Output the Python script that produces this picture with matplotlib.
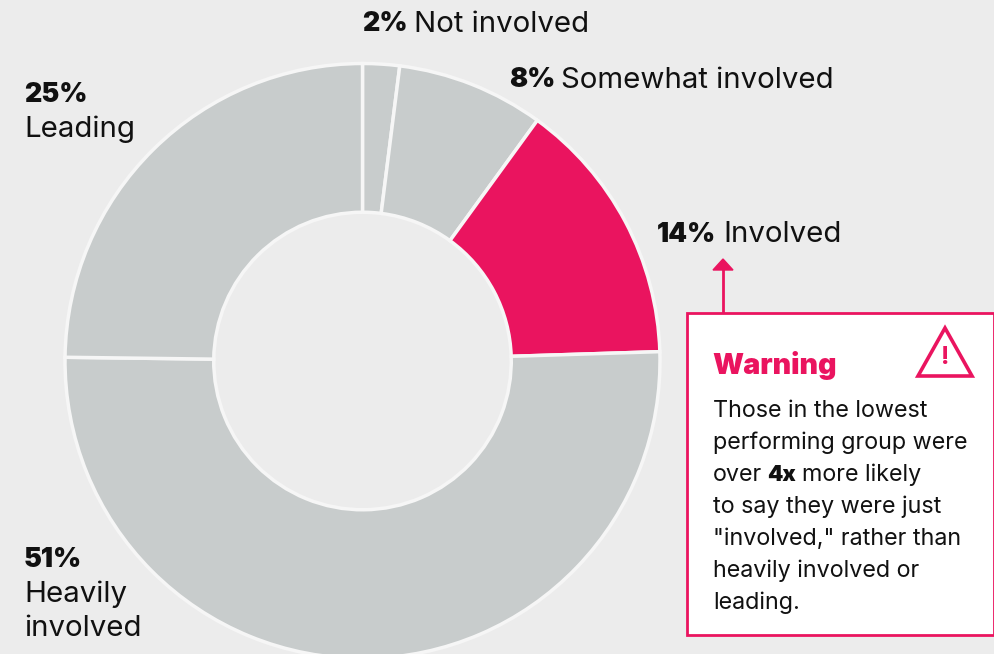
import matplotlib
matplotlib.use("Agg")
import matplotlib.pyplot as plt
from matplotlib.patches import Rectangle, Polygon

plt.rcParams['font.family'] = ['Inter', 'DejaVu Sans']

BG = "#ececec"
GREY = "#c8cccc"
PINK = "#ea145f"
INK = "#111111"

# slice sizes, clockwise from 12 o'clock
categories = ["Not involved", "Somewhat involved", "Involved", "Heavily involved", "Leading"]
values = [2.0, 8.0, 14.5, 50.7, 24.8]
pct_labels = ["2%", "8%", "14%", "51%", "25%"]
colors = [GREY, GREY, PINK, GREY, GREY]

W, H = 995, 654
fig = plt.figure(figsize=(W / 100, H / 100), dpi=100, facecolor=BG)

# full figure axes in pixel coords, for the text and the callout
bg = fig.add_axes([0, 0, 1, 1])
bg.set_xlim(0, W)
bg.set_ylim(H, 0)
bg.axis('off')

# Donut: centre (362.5, 361), radius 297.5
R = 297.5
ax = fig.add_axes([(362.5 - R) / W, 1 - (361 + R) / H, 2 * R / W, 2 * R / H])
ax.pie(values, colors=colors, startangle=90, counterclock=False, radius=1,
       wedgeprops=dict(width=0.5, edgecolor="#f6f6f6", linewidth=2.5))
ax.set_xlim(-1, 1)
ax.set_ylim(-1, 1)
ax.patch.set_alpha(0)

SIZE = 21.2
PCT = 19.4


def bold(x, y, s, size=PCT, color=INK):
    return bg.text(x, y, s, fontsize=size, fontweight='black',
                   va='center', ha='left', color=color, zorder=4)


def plain(x, y, s, size=SIZE):
    return bg.text(x, y, s, fontsize=size, va='center', ha='left', color=INK, zorder=4)


bold(362, 24, pct_labels[0])
plain(414, 24, categories[0])
bold(509, 80, pct_labels[1])
plain(561, 80, categories[1])
bold(657, 235, pct_labels[2])
plain(723, 235, categories[2])

bold(24, 95, pct_labels[4])
plain(24.5, 129, categories[4])
bold(24, 560, pct_labels[3])
plain(24.5, 594, "Heavily")
plain(24.5, 629, "involved")

# Callout
bg.add_patch(Rectangle((687, 313), 307, 322, facecolor='white', edgecolor=PINK, linewidth=2, zorder=3))
bg.plot([723, 723], [268, 313], color=PINK, lw=2, zorder=2)
bg.add_patch(Polygon([[713, 270], [733, 270], [723, 259]], closed=True, color=PINK, zorder=2))
bold(712, 365, "Warning", size=20.7, color=PINK)

# warning triangle icon
bg.add_patch(Polygon([[945, 328], [972, 376], [918, 376]], closed=True, facecolor='none',
                     edgecolor=PINK, linewidth=2.6, joinstyle='miter', zorder=4))
bg.text(945, 358, "!", fontsize=18, fontweight='bold', color=PINK, ha='center', va='center', zorder=4)

BODY = 16.8
body_lines = ["Those in the lowest", "performing group were", None,
              "to say they were just", "\"involved,\" rather than",
              "heavily involved or", "leading."]
ys = [411, 443, 475, 507, 539, 571, 603]
for line, y in zip(body_lines, ys):
    if line is not None:
        plain(713, y, line, size=BODY)

# mixed weight line
plain(713, 475, "over", size=BODY)
bold(767, 475, "4x", size=15.8)
plain(802, 475, "more likely", size=BODY)

fig.savefig("out.png", dpi=100, facecolor=BG)
